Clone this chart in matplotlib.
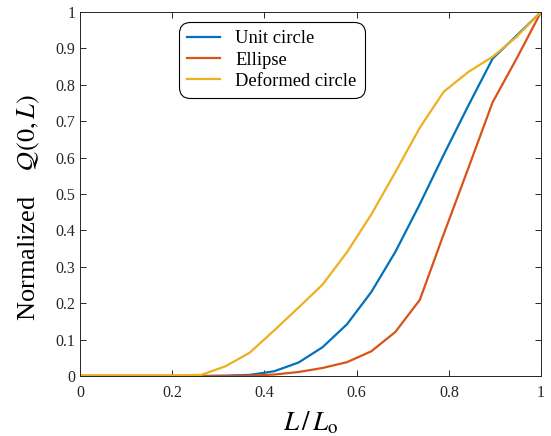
import matplotlib
matplotlib.use("Agg")
import matplotlib.pyplot as plt
from matplotlib.ticker import FuncFormatter

plt.rcParams['font.family'] = ['Liberation Serif', 'DejaVu Serif']
plt.rcParams['mathtext.fontset'] = 'stix'

x = [0.0, 0.053, 0.105, 0.158, 0.211, 0.263, 0.316, 0.368, 0.421, 0.474,
     0.526, 0.579, 0.632, 0.684, 0.737, 0.789, 0.842, 0.895, 0.947, 1.0]
unit_circle = [0, 0, 0, 0, 0, 0, 0.001, 0.003, 0.013, 0.037,
               0.079, 0.142, 0.231, 0.341, 0.472, 0.608, 0.742, 0.872, 0.935, 1.0]
ellipse = [0, 0, 0, 0, 0, 0, 0, 0.001, 0.004, 0.011,
           0.022, 0.038, 0.068, 0.121, 0.209, 0.39, 0.57, 0.752, 0.872, 1.0]
deformed = [0.002, 0.002, 0.002, 0.002, 0.002, 0.003, 0.027, 0.064, 0.125, 0.188,
            0.251, 0.34, 0.444, 0.56, 0.682, 0.781, 0.835, 0.877, 0.932, 1.0]

series = [("Unit circle", unit_circle, "#0072BD"),
          ("Ellipse", ellipse, "#D95319"),
          ("Deformed circle", deformed, "#EDB120")]

fig = plt.figure(figsize=(5.51, 4.36), dpi=100)
ax = fig.add_axes([0.1452, 0.1376, 0.8367, 0.8349])

for name, vals, col in series:
    ax.plot(x, vals, color=col, lw=1.6, label=name)

ax.set_xlim(0, 1)
ax.set_ylim(0, 1)
ax.set_xticks([0, 0.2, 0.4, 0.6, 0.8, 1.0])
ax.set_yticks([i / 10 for i in range(11)])
fmt = FuncFormatter(lambda v, p: "%g" % round(v, 2))
ax.xaxis.set_major_formatter(fmt)
ax.yaxis.set_major_formatter(fmt)
ax.tick_params(direction='in', top=True, right=True, labelsize=11.5,
               colors='#262626', length=4, width=0.7)
ax.tick_params(axis='x', pad=6.5)
for s in ax.spines.values():
    s.set_color('#262626')
    s.set_linewidth(0.7)

ax.set_xlabel(r"$L\,/\,L_{\mathrm{o}}$", fontsize=19.5, labelpad=6)
ax.set_ylabel(r"Normalized    $\mathcal{Q}(0,L)$", fontsize=19)
ax.yaxis.set_label_coords(-0.082, 0.463)

leg = ax.legend(loc='upper left', bbox_to_anchor=(0.215, 0.972), fontsize=13.3,
                frameon=True, fancybox=True, edgecolor='black', framealpha=1,
                handlelength=1.75, borderpad=0.45, labelspacing=0.22,
                handletextpad=0.85, borderaxespad=0.0)
leg.get_frame().set_linewidth(0.8)
leg.get_frame().set_boxstyle('round,pad=0,rounding_size=0.6')

fig.savefig("out.png", dpi=100)
